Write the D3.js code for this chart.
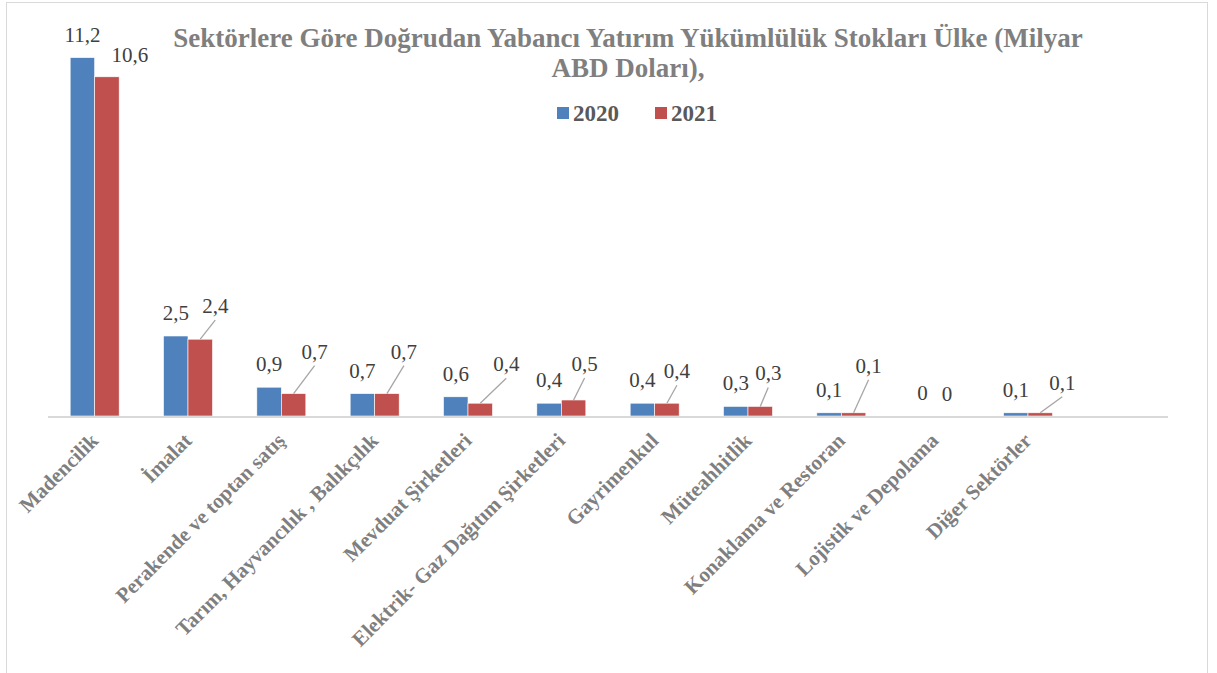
<!DOCTYPE html>
<html>
<head>
<meta charset="utf-8">
<script src="https://cdn.jsdelivr.net/npm/d3@7"></script>
</head>
<body style="margin:0;background:#fff">
<script>
// sectors (the last slot is the empty category Excel left on the axis)
var sectors = ["Madencilik", "İmalat", "Perakende ve toptan satış", "Tarım, Hayvancılık , Balıkçılık",
  "Mevduat Şirketleri", "Elektrik- Gaz Dağıtım Şirketleri", "Gayrimenkul", "Müteahhitlik",
  "Konaklama ve Restoran", "Lojistik ve Depolama", "Diğer Sektörler", ""];
var years = ["2020", "2021"];
var values2020 = [11.2, 2.5, 0.9, 0.7, 0.6, 0.4, 0.4, 0.3, 0.1, 0, 0.1];
var values2021 = [10.6, 2.4, 0.7, 0.7, 0.4, 0.5, 0.4, 0.3, 0.1, 0, 0.1];
var yDomain = [0, 12];
// hand moved 2021 labels (shift of label centre from bar top)
var shift2021 = [[23, -22], [15, -33], [21, -42], [17, -42], [26, -39], [11, -36],
  [10, -32], [8, -33], [15, -47], [0, -22], [22, -30]];

var W = 1217, H = 673;
var colors = {"2020": "#4F81BD", "2021": "#C0504D"};

var svg = d3.select("body").append("svg")
  .attr("width", W).attr("height", H);

function txt(sel) {
  return sel.style("font-family", "Liberation Serif").attr("font-family", "Liberation Serif");
}

// chart border
svg.append("rect").attr("x", 6.5).attr("y", 2.5).attr("width", 1201).attr("height", 700)
  .attr("fill", "none").attr("stroke", "#d9d9d9").attr("stroke-width", 1);

var x = d3.scaleBand().domain(sectors).range([48, 1168]).paddingInner(0.475).paddingOuter(0.2375);
var x1 = d3.scaleBand().domain(years).range([0, x.bandwidth()]);
var y = d3.scaleLinear().domain(yDomain).range([416, 32]);

var rows = values2020.map(function (v, i) {
  return {sector: sectors[i], i: i, "2020": v, "2021": values2021[i]};
});

// bars
var g = svg.selectAll("g.grp").data(rows).enter().append("g")
  .attr("class", "grp")
  .attr("transform", function (d) { return "translate(" + x(d.sector) + ",0)"; });

g.selectAll("rect").data(function (d) {
  return years.map(function (k) { return {key: k, value: d[k]}; });
}).enter().append("rect")
  .attr("x", function (d) { return x1(d.key); })
  .attr("y", function (d) { return y(d.value); })
  .attr("width", x1.bandwidth())
  .attr("height", function (d) { return y(0) - y(d.value); })
  .attr("fill", function (d) { return colors[d.key]; })
  .attr("stroke", "#fff").attr("stroke-width", 0.6);

// axis line
svg.append("line").attr("x1", 48).attr("x2", 1168).attr("y1", y(0) + 1).attr("y2", y(0) + 1)
  .attr("stroke", "#d9d9d9").attr("stroke-width", 2);

var fmt = function (v) { return v === 0 ? "0" : v.toFixed(1).replace(".", ","); };

// 2020 labels
txt(g.append("text"))
  .attr("x", x1("2020") + x1.bandwidth() / 2)
  .attr("y", function (d) { return y(d["2020"]) - 16; })
  .attr("text-anchor", "middle")
  .attr("font-size", "21px").attr("fill", "#404040")
  .text(function (d) { return fmt(d["2020"]); });

// 2021 labels with leader lines
g.each(function (d) {
  var cx = x1("2021") + x1.bandwidth() / 2, top = y(d["2021"]);
  var s = shift2021[d.i];
  var lx = cx + s[0], ly = top + s[1];
  if (s[1] < -28) {
    d3.select(this).append("line")
      .attr("x1", cx).attr("y1", top)
      .attr("x2", lx).attr("y2", ly + 14)
      .attr("stroke", "#a6a6a6").attr("stroke-width", 1.3);
  }
  txt(d3.select(this).append("text"))
    .attr("x", lx).attr("y", ly + 7)
    .attr("text-anchor", "middle")
    .attr("font-size", "21px").attr("fill", "#404040")
    .text(fmt(d["2021"]));
});

// category labels
txt(svg.selectAll("text.cat").data(sectors.filter(function (s) { return s; })).enter().append("text"))
  .attr("class", "cat")
  .attr("transform", function (d) {
    return "translate(" + (x(d) + x.bandwidth() / 2) + ",437) rotate(-45)";
  })
  .attr("text-anchor", "end")
  .attr("dominant-baseline", "central")
  .attr("font-size", "21px").attr("font-weight", "bold").attr("fill", "#7f7f7f")
  .text(function (d) { return d; });

// title
var title = txt(svg.append("text")).attr("text-anchor", "middle")
  .attr("font-size", "27px").attr("font-weight", "bold").attr("fill", "#7f7f7f");
title.append("tspan").attr("x", 628).attr("y", 47)
  .text("Sektörlere Göre Doğrudan Yabancı Yatırım Yükümlülük Stokları Ülke (Milyar");
title.append("tspan").attr("x", 628).attr("y", 77).text("ABD Doları),");

// legend
var leg = svg.selectAll("g.leg").data(years).enter().append("g")
  .attr("class", "leg")
  .attr("transform", function (d, i) { return "translate(" + (557 + i * 98) + ",107)"; });
leg.append("rect").attr("width", 12).attr("height", 12)
  .attr("fill", function (d) { return colors[d]; });
txt(leg.append("text")).attr("x", 16).attr("y", 14)
  .attr("font-size", "23px").attr("font-weight", "bold").attr("fill", "#595959")
  .text(function (d) { return d; });
</script>
</body>
</html>
